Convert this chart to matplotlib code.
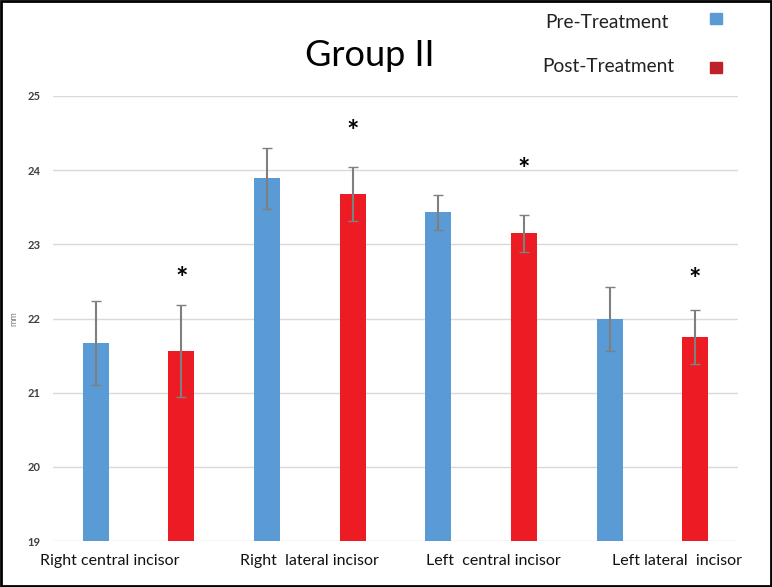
import numpy as np
import matplotlib.pyplot as plt
from matplotlib.patches import Rectangle

# data
teeth = ['Right central incisor', 'Right  lateral incisor', 'Left  central incisor', 'Left lateral  incisor']
pre = [21.67, 23.89, 23.43, 21.99]
pre_err = [0.57, 0.41, 0.24, 0.43]
post = [21.56, 23.68, 23.15, 21.75]
post_err = [0.62, 0.36, 0.25, 0.36]
star_y = [22.53, 24.51, 24.00, 22.52]
# labels in the original are not quite centred under the groups
label_shift = [-0.167, 0.0, 0.073, 0.143]

plt.rcParams['font.family'] = ['Lato', 'DejaVu Sans']

fig = plt.figure(figsize=(7.72, 5.87), dpi=100)
ax = fig.add_axes([53/772, 46/587, 685/772, 445/587])

x = np.arange(len(teeth))
w = 0.152
off = 0.25
blue = '#5B9BD5'
red = '#ED1C24'
ecol = '#7F7F7F'

ax.bar(x - off, pre, w, color=blue, zorder=2)
ax.bar(x + off, post, w, color=red, zorder=2)
ax.errorbar(x - off, pre, yerr=pre_err, fmt='none', ecolor=ecol, elinewidth=1.5, capsize=3.5, zorder=3)
ax.errorbar(x + off, post, yerr=post_err, fmt='none', ecolor=ecol, elinewidth=1.5, capsize=3.5, zorder=3)

for xi, sy in zip(x + off, star_y):
    ax.text(xi, sy, '*', ha='center', va='center', fontsize=21, fontweight='bold', color='black')

ax.set_ylim(19, 25)
ax.set_xlim(-0.5, 3.5)
ax.set_yticks(range(19, 26))
ax.yaxis.grid(True, color='#D9D9D9', linewidth=1, zorder=0)
ax.set_axisbelow(True)
for s in ax.spines.values():
    s.set_visible(False)
ax.tick_params(axis='both', length=0)
ax.tick_params(axis='y', labelsize=8, pad=9)
for lab in ax.get_yticklabels():
    lab.set_fontweight('bold')
    lab.set_color('#404040')
ax.set_xticks(x)
ax.set_xticklabels([])
for xi, name, sh in zip(x, teeth, label_shift):
    ax.text(xi + sh, -0.045, name, transform=ax.get_xaxis_transform(), ha='center', va='center',
            fontsize=11.5, color='#111111')
ax.set_ylabel('mm', fontsize=6.5, color='#808080')
ax.yaxis.set_label_coords(-0.051, 0.5)

fig.text(370/772, 1 - 56/587, 'Group II', ha='center', va='center', fontsize=26, color='black')

# legend drawn like the original (text left, square right)
fig.text(607/772, 1 - 22/587, 'Pre-Treatment', ha='center', va='center', fontsize=13.8, color='#222222')
fig.text(608/772, 1 - 66/587, 'Post-Treatment', ha='center', va='center', fontsize=13.8, color='#222222')
fig.patches.append(Rectangle((710/772, 1 - 24/587), 12/772, 11/587, transform=fig.transFigure, color=blue, figure=fig))
fig.patches.append(Rectangle((710/772, 1 - 73/587), 12/772, 11/587, transform=fig.transFigure, color='#C0202A', figure=fig))

# frame around the picture
fig.patches.append(Rectangle((0.001, 0.001), 0.998, 0.998, transform=fig.transFigure, fill=False, edgecolor='black', linewidth=2, figure=fig))

fig.savefig('out.png', dpi=100)
